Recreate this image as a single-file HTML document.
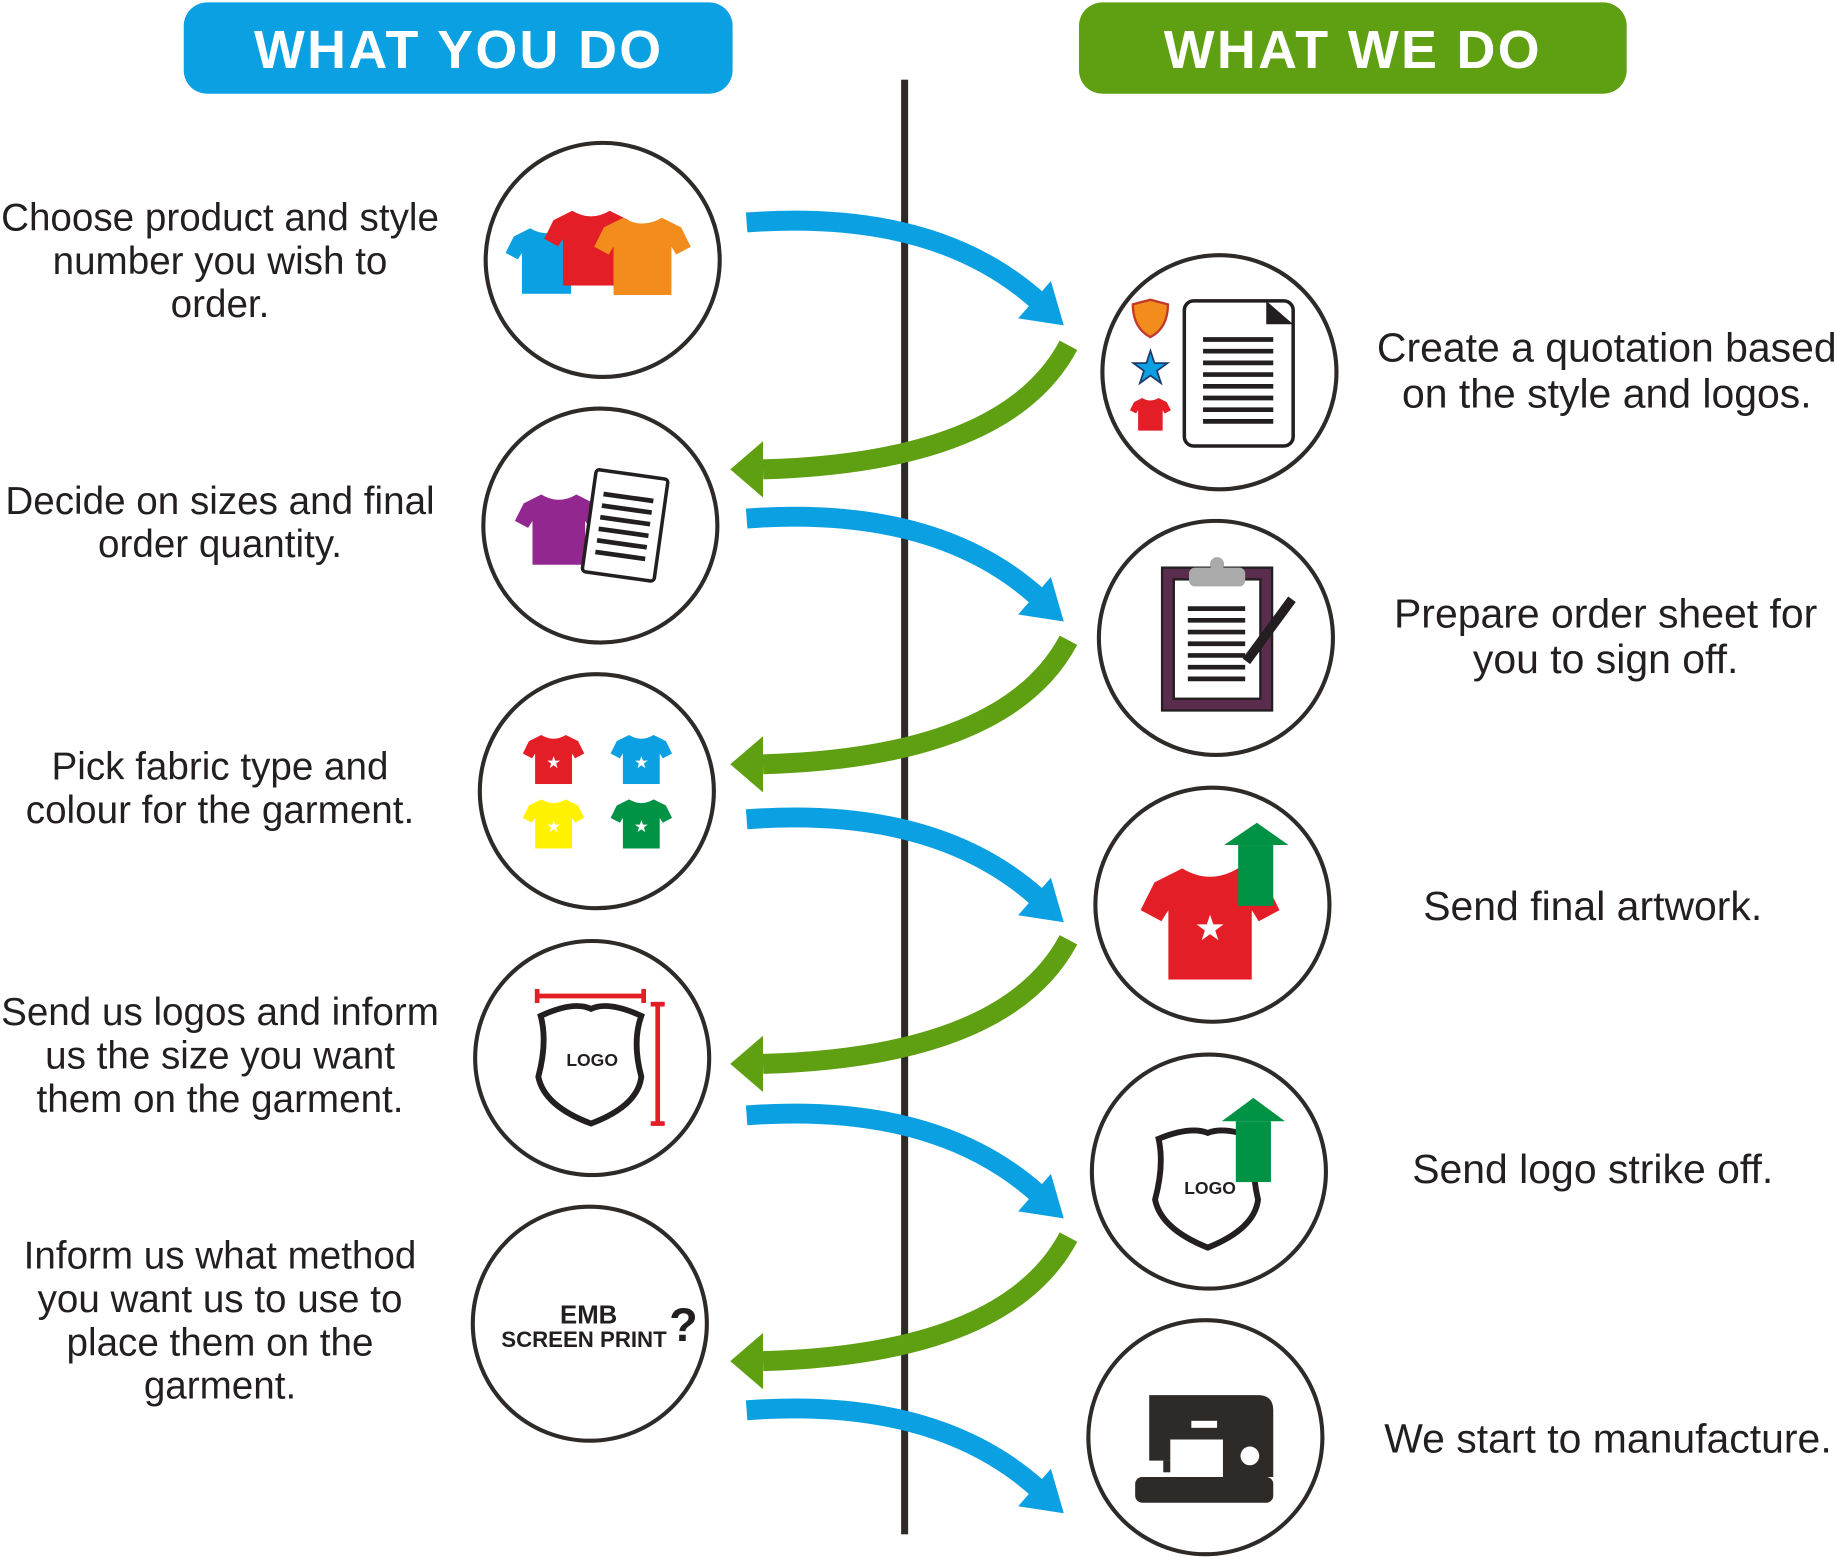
<!DOCTYPE html>
<html><head><meta charset="utf-8"><style>
html,body{margin:0;padding:0;background:#fff;}
svg{display:block;}
text{font-family:"Liberation Sans",sans-serif;}
</style></head><body>
<svg width="1835" height="1559" viewBox="0 0 1568 1332" xmlns="http://www.w3.org/2000/svg">
<defs>
<symbol id="shirt" viewBox="0 0 100 80"><path d="M30,0 L10,10 L0,30 L15,38 L20,30 L20,80 L80,80 L80,30 L85,38 L100,30 L90,10 L70,0 Q50,12 30,0Z"/></symbol>
<g id="blue"><path d="M638,190 Q800,178 888,258" fill="none" stroke="#0aa0e2" stroke-width="17"/><polygon points="909,278 870,272 898,240" fill="#0aa0e2"/></g>
<g id="green"><path d="M913,295 Q860,395 652,401" fill="none" stroke="#5f9f12" stroke-width="17"/><polygon points="624,401 652,377 652,425" fill="#5f9f12"/></g>
</defs>

<rect x="157" y="2" width="469" height="78" rx="20" fill="#0aa0e2"/>
<text x="392" y="58" font-size="46" font-weight="bold" fill="#fff" text-anchor="middle" letter-spacing="2">WHAT YOU DO</text>
<rect x="922" y="2" width="468" height="78" rx="20" fill="#5f9f12"/>
<text x="1156" y="58" font-size="46" font-weight="bold" fill="#fff" text-anchor="middle" letter-spacing="2">WHAT WE DO</text>

<rect x="770" y="68" width="6" height="1243" fill="#2e2a28"/>

<use href="#blue"/><use href="#blue" y="253"/><use href="#blue" y="510"/><use href="#blue" y="763"/><use href="#blue" y="1015"/>
<use href="#green"/><use href="#green" y="252"/><use href="#green" y="508"/><use href="#green" y="762"/>

<g fill="#fff" stroke="#2e2a28" stroke-width="3.5">
<circle cx="515" cy="222" r="100"/><circle cx="513" cy="449" r="100"/><circle cx="510" cy="676" r="100"/><circle cx="506" cy="904" r="100"/><circle cx="504" cy="1131" r="100"/>
<circle cx="1042" cy="318" r="100"/><circle cx="1039" cy="545" r="100"/><circle cx="1036" cy="773" r="100"/><circle cx="1033" cy="1001" r="100"/><circle cx="1030" cy="1228" r="100"/>
</g>

<g font-size="33" fill="#231f20" text-anchor="middle">
<text x="188" y="197">Choose product and style</text><text x="188" y="234">number you wish to</text><text x="188" y="271">order.</text>
<text x="188" y="439">Decide on sizes and final</text><text x="188" y="476">order quantity.</text>
<text x="188" y="666">Pick fabric type and</text><text x="188" y="703">colour for the garment.</text>
<text x="188" y="876">Send us logos and inform</text><text x="188" y="913">us the size you want</text><text x="188" y="950">them on the garment.</text>
<text x="188" y="1084">Inform us what method</text><text x="188" y="1121">you want us to use to</text><text x="188" y="1158">place them on the</text><text x="188" y="1195">garment.</text>
</g>
<g font-size="35" fill="#231f20" text-anchor="middle">
<text x="1373" y="309">Create a quotation based</text><text x="1373" y="348">on the style and logos.</text>
<text x="1372" y="536">Prepare order sheet for</text><text x="1372" y="575">you to sign off.</text>
<text x="1361" y="786">Send final artwork.</text>
<text x="1361" y="1011">Send logo strike off.</text>
<text x="1374" y="1241">We start to manufacture.</text>
</g>

<use href="#shirt" x="432" y="195" width="70" height="56" fill="#0aa0e2"/>
<use href="#shirt" x="465" y="180" width="80" height="64" fill="#e41e26"/>
<use href="#shirt" x="500" y="186" width="98" height="66" fill="#f28c1c"/>
<use href="#shirt" x="440" y="410" width="75" height="85" fill="#92278f"/>
<g transform="rotate(8 535 450)"><rect x="503" y="405" width="62" height="88" fill="#fff" stroke="#231f20" stroke-width="3" rx="3"/>
<g stroke="#231f20" stroke-width="4"><line x1="512" y1="425" x2="555" y2="425"/><line x1="512" y1="435" x2="555" y2="435"/><line x1="512" y1="445" x2="555" y2="445"/><line x1="512" y1="455" x2="555" y2="455"/><line x1="512" y1="465" x2="555" y2="465"/><line x1="512" y1="475" x2="555" y2="475"/></g></g>
<use href="#shirt" x="442" y="628" width="62" height="42" fill="#e41e26"/>
<use href="#shirt" x="517" y="628" width="62" height="42" fill="#0aa0e2"/>
<use href="#shirt" x="442" y="683" width="62" height="42" fill="#fff200"/>
<use href="#shirt" x="517" y="683" width="62" height="42" fill="#009245"/>
<g fill="#fff" font-size="14" text-anchor="middle"><text x="473" y="656">★</text><text x="548" y="656">★</text><text x="473" y="711">★</text><text x="548" y="711">★</text></g>
<path d="M462,868 Q490,855 505,862 Q520,855 548,868 Q540,890 548,920 Q545,945 505,960 Q465,945 460,920 Q468,890 462,868Z" fill="#fff" stroke="#231f20" stroke-width="5"/>
<text x="506" y="911" font-size="15" font-weight="bold" text-anchor="middle" fill="#231f20">LOGO</text>
<g stroke="#e41e26" stroke-width="4"><line x1="459" y1="851" x2="550" y2="851"/><line x1="459" y1="845" x2="459" y2="857"/><line x1="550" y1="845" x2="550" y2="857"/><line x1="562" y1="858" x2="562" y2="960"/><line x1="556" y1="858" x2="568" y2="858"/><line x1="556" y1="960" x2="568" y2="960"/></g>
<text x="503" y="1131" font-size="22" font-weight="bold" text-anchor="middle" fill="#231f20">EMB</text>
<text x="499" y="1151" font-size="19" font-weight="bold" text-anchor="middle" fill="#231f20">SCREEN PRINT</text>
<text x="584" y="1146" font-size="40" font-weight="bold" text-anchor="middle" fill="#231f20">?</text>
<rect x="1012" y="257" width="93" height="124" rx="8" fill="#fff" stroke="#231f20" stroke-width="3"/>
<polygon points="1082,257 1105,277 1082,277" fill="#231f20"/>
<g stroke="#231f20" stroke-width="4"><line x1="1028" y1="290" x2="1088" y2="290"/><line x1="1028" y1="300" x2="1088" y2="300"/><line x1="1028" y1="310" x2="1088" y2="310"/><line x1="1028" y1="320" x2="1088" y2="320"/><line x1="1028" y1="330" x2="1088" y2="330"/><line x1="1028" y1="340" x2="1088" y2="340"/><line x1="1028" y1="350" x2="1088" y2="350"/><line x1="1028" y1="360" x2="1088" y2="360"/></g>
<path d="M968,260 L983,256 L998,260 Q998,280 983,288 Q968,280 968,260Z" fill="#f28c1c" stroke="#c0392b" stroke-width="2"/>
<text x="983" y="327" font-size="38" text-anchor="middle" fill="#0aa0e2" stroke="#1b3a6b" stroke-width="1.5">★</text>
<use href="#shirt" x="964" y="340" width="38" height="28" fill="#e41e26"/>
<rect x="993" y="485" width="94" height="122" fill="#5a2d4e" stroke="#231f20" stroke-width="2"/>
<rect x="1003" y="495" width="74" height="102" fill="#fff" stroke="#231f20" stroke-width="2"/>
<rect x="1016" y="485" width="48" height="16" rx="5" fill="#aaa"/>
<circle cx="1040" cy="482" r="6" fill="#aaa"/>
<g stroke="#231f20" stroke-width="4"><line x1="1015" y1="520" x2="1064" y2="520"/><line x1="1015" y1="530" x2="1064" y2="530"/><line x1="1015" y1="540" x2="1064" y2="540"/><line x1="1015" y1="550" x2="1064" y2="550"/><line x1="1015" y1="560" x2="1064" y2="560"/><line x1="1015" y1="570" x2="1064" y2="570"/><line x1="1015" y1="580" x2="1064" y2="580"/></g>
<line x1="1104" y1="512" x2="1065" y2="565" stroke="#231f20" stroke-width="8"/>
<use href="#shirt" x="966" y="742" width="136" height="95" fill="#e41e26"/>
<text x="1034" y="803" font-size="30" text-anchor="middle" fill="#fff">★</text>
<rect x="1058" y="722" width="30" height="52" fill="#009245"/>
<polygon points="1046,722 1074,703 1101,722" fill="#009245"/>
<path d="M990,973 Q1017,962 1032,968 Q1047,962 1074,973 Q1068,995 1075,1025 Q1072,1050 1032,1066 Q992,1050 987,1025 Q995,995 990,973Z" fill="#fff" stroke="#231f20" stroke-width="5"/>
<text x="1034" y="1020" font-size="15" font-weight="bold" text-anchor="middle" fill="#231f20">LOGO</text>
<rect x="1056" y="958" width="30" height="52" fill="#009245"/>
<polygon points="1044,958 1071,938 1098,958" fill="#009245"/>
<path d="M982,1192 L1075,1192 Q1088,1192 1088,1205 L1088,1262 L1045,1262 L1045,1230 L1000,1230 L1000,1248 L982,1248 Z" fill="#2e2a28"/>
<rect x="970" y="1262" width="118" height="22" rx="6" fill="#2e2a28"/>
<circle cx="1068" cy="1244" r="8" fill="#fff"/>
<rect x="1018" y="1214" width="22" height="6" fill="#fff"/>
<rect x="994" y="1248" width="6" height="10" fill="#2e2a28"/>
</svg>
</body></html>
